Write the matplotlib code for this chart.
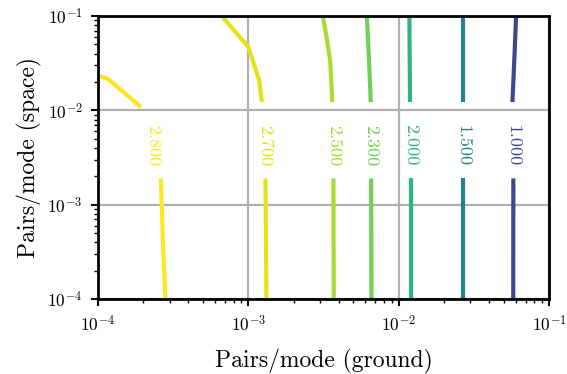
import numpy as np
import matplotlib
matplotlib.use("Agg")
import matplotlib.pyplot as plt
from matplotlib.colors import Normalize

plt.rcParams['font.family'] = 'serif'
plt.rcParams['font.serif'] = ['cmr10']
plt.rcParams['mathtext.fontset'] = 'cm'
plt.rcParams['axes.formatter.use_mathtext'] = True
plt.rcParams['axes.unicode_minus'] = False

# contour levels and their labels
levels = [1.0, 1.5, 2.0, 2.3, 2.5, 2.7, 2.8]
level_labels = ["1.000", "1.500", "2.000", "2.300", "2.500", "2.700", "2.800"]

# upper part of each contour (above the label gap): ground, space
upper_ground = [
    [0.0604, 0.0590, 0.0571],
    [0.0268, 0.0268],
    [0.01178, 0.0119],
    [0.00614, 0.00635, 0.00652],
    [0.00313, 0.00334, 0.00350, 0.00362],
    [0.000665, 0.00100, 0.00118, 0.00123],
    [0.0001, 0.000117, 0.000193],
]
upper_space = [
    [0.1, 0.040, 0.01225],
    [0.1, 0.01225],
    [0.1, 0.01225],
    [0.1, 0.034, 0.01225],
    [0.1, 0.0555, 0.0341, 0.01225],
    [0.1, 0.0472, 0.0209, 0.01225],
    [0.0234, 0.0215, 0.01084],
]
# lower part of each contour (below the label gap)
lower_ground = [
    [0.0579, 0.0578],
    [0.0268, 0.0268],
    [0.0120, 0.0120],
    [0.00656, 0.00659],
    [0.00368, 0.00370],
    [0.00130, 0.00132],
    [0.000262, 0.000270, 0.000281],
]
lower_space = [
    [0.0019, 0.0001],
    [0.0019, 0.0001],
    [0.0019, 0.0001],
    [0.0019, 0.0001],
    [0.0019, 0.0001],
    [0.0019, 0.0001],
    [0.0019, 0.000422, 0.0001],
]
# label x positions
label_ground = [0.0579, 0.0268, 0.0120, 0.00656, 0.00368, 0.00129, 0.000232]
label_space = 0.00428

fig = plt.figure(figsize=(5.67, 3.74), dpi=100)
ax = fig.add_axes([0.1728, 0.2005, 0.7955, 0.7565])

cmap = plt.get_cmap('viridis')
norm = Normalize(vmin=0.5, vmax=2.8)

for i, lev in enumerate(levels):
    c = cmap(norm(lev))
    ax.plot(upper_ground[i], upper_space[i], color=c, lw=3.0, solid_capstyle='butt')
    ax.plot(lower_ground[i], lower_space[i], color=c, lw=3.0, solid_capstyle='butt')
    ax.text(label_ground[i], label_space, level_labels[i], color=c, fontsize=13,
            rotation=-90, ha='center', va='center')

ax.set_xscale('log')
ax.set_yscale('log')
ax.set_xlim(1e-4, 1e-1)
ax.set_ylim(1e-4, 1e-1)

ax.grid(True, which='major', color='#b0b0b0', lw=1.6)
ax.set_axisbelow(True)

for s in ax.spines.values():
    s.set_linewidth(2.0)

ax.tick_params(which='major', direction='out', length=5, width=1.5, labelsize=12.5,
               pad=6, top=False, right=False)
ax.tick_params(which='minor', direction='out', length=3, width=1,
               top=False, right=False)

ax.set_xlabel('Pairs/mode (ground)', fontsize=17, labelpad=10)
ax.set_ylabel('Pairs/mode (space)', fontsize=17, labelpad=4)

fig.savefig('out.png', dpi=100)
